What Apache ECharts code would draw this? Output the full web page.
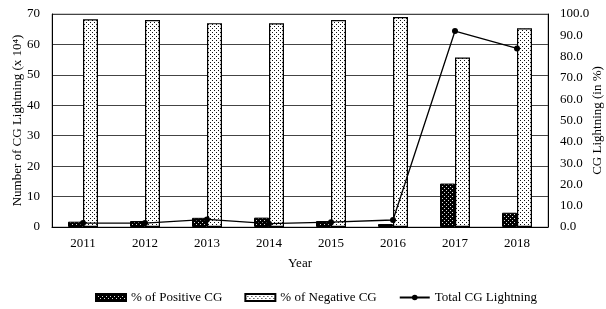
<!DOCTYPE html>
<html>
<head>
<meta charset="utf-8">
<script src="https://cdn.jsdelivr.net/npm/echarts@6/dist/echarts.min.js"></script>
<style>
html,body{margin:0;padding:0;background:#fff}
#chart{width:606px;height:309px}
</style>
</head>
<body>
<div id="chart"></div>
<script>
var years = ['2011', '2012', '2013', '2014', '2015', '2016', '2017', '2018'];
var positivePct = [2.5, 2.8, 4.3, 4.4, 2.8, 1.4, 20.4, 6.7];
var negativePct = [97.5, 97.2, 95.7, 95.6, 97.2, 98.6, 79.6, 93.3];
var totalCG = [1.3, 1.3, 2.5, 1.1, 1.6, 2.3, 64.4, 58.7];
var leftTicks = [0, 70, 10];
var rightTicks = [0, 100, 10];

var FONT = 'Liberation Serif';

// dotted fill patterns for the bars
function makePattern(bg, dot, step) {
    var c = document.createElement('canvas');
    c.width = step * 2; c.height = step * 2;
    var ctx = c.getContext('2d');
    ctx.fillStyle = bg;
    ctx.fillRect(0, 0, c.width, c.height);
    ctx.fillStyle = dot;
    ctx.fillRect(0, 0, 1, 1);
    ctx.fillRect(step, step, 1, 1);
    return {image: c, repeat: 'repeat'};
}
var posFill = makePattern('#000', '#ddd', 2);
var negFill = makePattern('#fff', '#111', 2);

var chart = echarts.init(document.getElementById('chart'), null, {renderer: 'canvas'});
chart.setOption({
    animation: false,
    textStyle: {fontFamily: FONT, color: '#000'},
    grid: {left: 52, right: 58, top: 14, bottom: 82, containLabel: false, outerBoundsMode: 'none',
        show: true, borderColor: '#999', borderWidth: 1},
    legend: {
        bottom: 0, left: 90,
        itemWidth: 30, itemHeight: 7, itemGap: 22,
        textStyle: {fontFamily: FONT, fontSize: 13, color: '#000'},
        data: [
            {name: '% of Positive CG', icon: 'rect'},
            {name: '% of Negative CG', icon: 'rect'},
            {name: 'Total CG Lightning'}
        ]
    },
    xAxis: {
        type: 'category', data: years,
        name: 'Year', nameLocation: 'middle', nameGap: 30, nameMoveOverlap: false,
        nameTextStyle: {fontFamily: FONT, fontSize: 13, color: '#000'},
        axisLine: {lineStyle: {color: '#000', width: 1}},
        axisTick: {show: false},
        axisLabel: {fontFamily: FONT, fontSize: 13, color: '#000', margin: 10}
    },
    yAxis: [{
        type: 'value', min: leftTicks[0], max: leftTicks[1], interval: leftTicks[2],
        name: 'Number of CG Lightning (x 10\u2074)', nameLocation: 'middle', nameGap: 28,
        nameRotate: 90, nameMoveOverlap: false,
        nameTextStyle: {fontFamily: FONT, fontSize: 13, color: '#000'},
        axisLine: {show: true, lineStyle: {color: '#000'}},
        axisTick: {show: false},
        axisLabel: {fontFamily: FONT, fontSize: 13, color: '#000', margin: 12},
        splitLine: {lineStyle: {color: '#444', width: 1}}
    }, {
        type: 'value', min: rightTicks[0], max: rightTicks[1], interval: rightTicks[2],
        name: 'CG Lightning (in %)', nameLocation: 'middle', nameGap: 43,
        nameRotate: 90, nameMoveOverlap: false,
        nameTextStyle: {fontFamily: FONT, fontSize: 13, color: '#000'},
        axisLine: {show: true, lineStyle: {color: '#000'}},
        axisTick: {show: false},
        axisLabel: {fontFamily: FONT, fontSize: 13, color: '#000', margin: 12,
            formatter: function (v) { return v.toFixed(1); }},
        splitLine: {show: false}
    }],
    series: [{
        name: '% of Positive CG', type: 'bar', yAxisIndex: 1,
        data: positivePct, barWidth: 15, barGap: '0%',
        itemStyle: {color: posFill, borderColor: '#000', borderWidth: 1}
    }, {
        name: '% of Negative CG', type: 'bar', yAxisIndex: 1,
        data: negativePct, barWidth: 15, barGap: '0%',
        itemStyle: {color: negFill, borderColor: '#000', borderWidth: 1.2}
    }, {
        name: 'Total CG Lightning', type: 'line', yAxisIndex: 0,
        data: totalCG, symbol: 'circle', symbolSize: 6,
        lineStyle: {color: '#000', width: 1.3},
        itemStyle: {color: '#000'}
    }]
});
</script>
</body>
</html>
